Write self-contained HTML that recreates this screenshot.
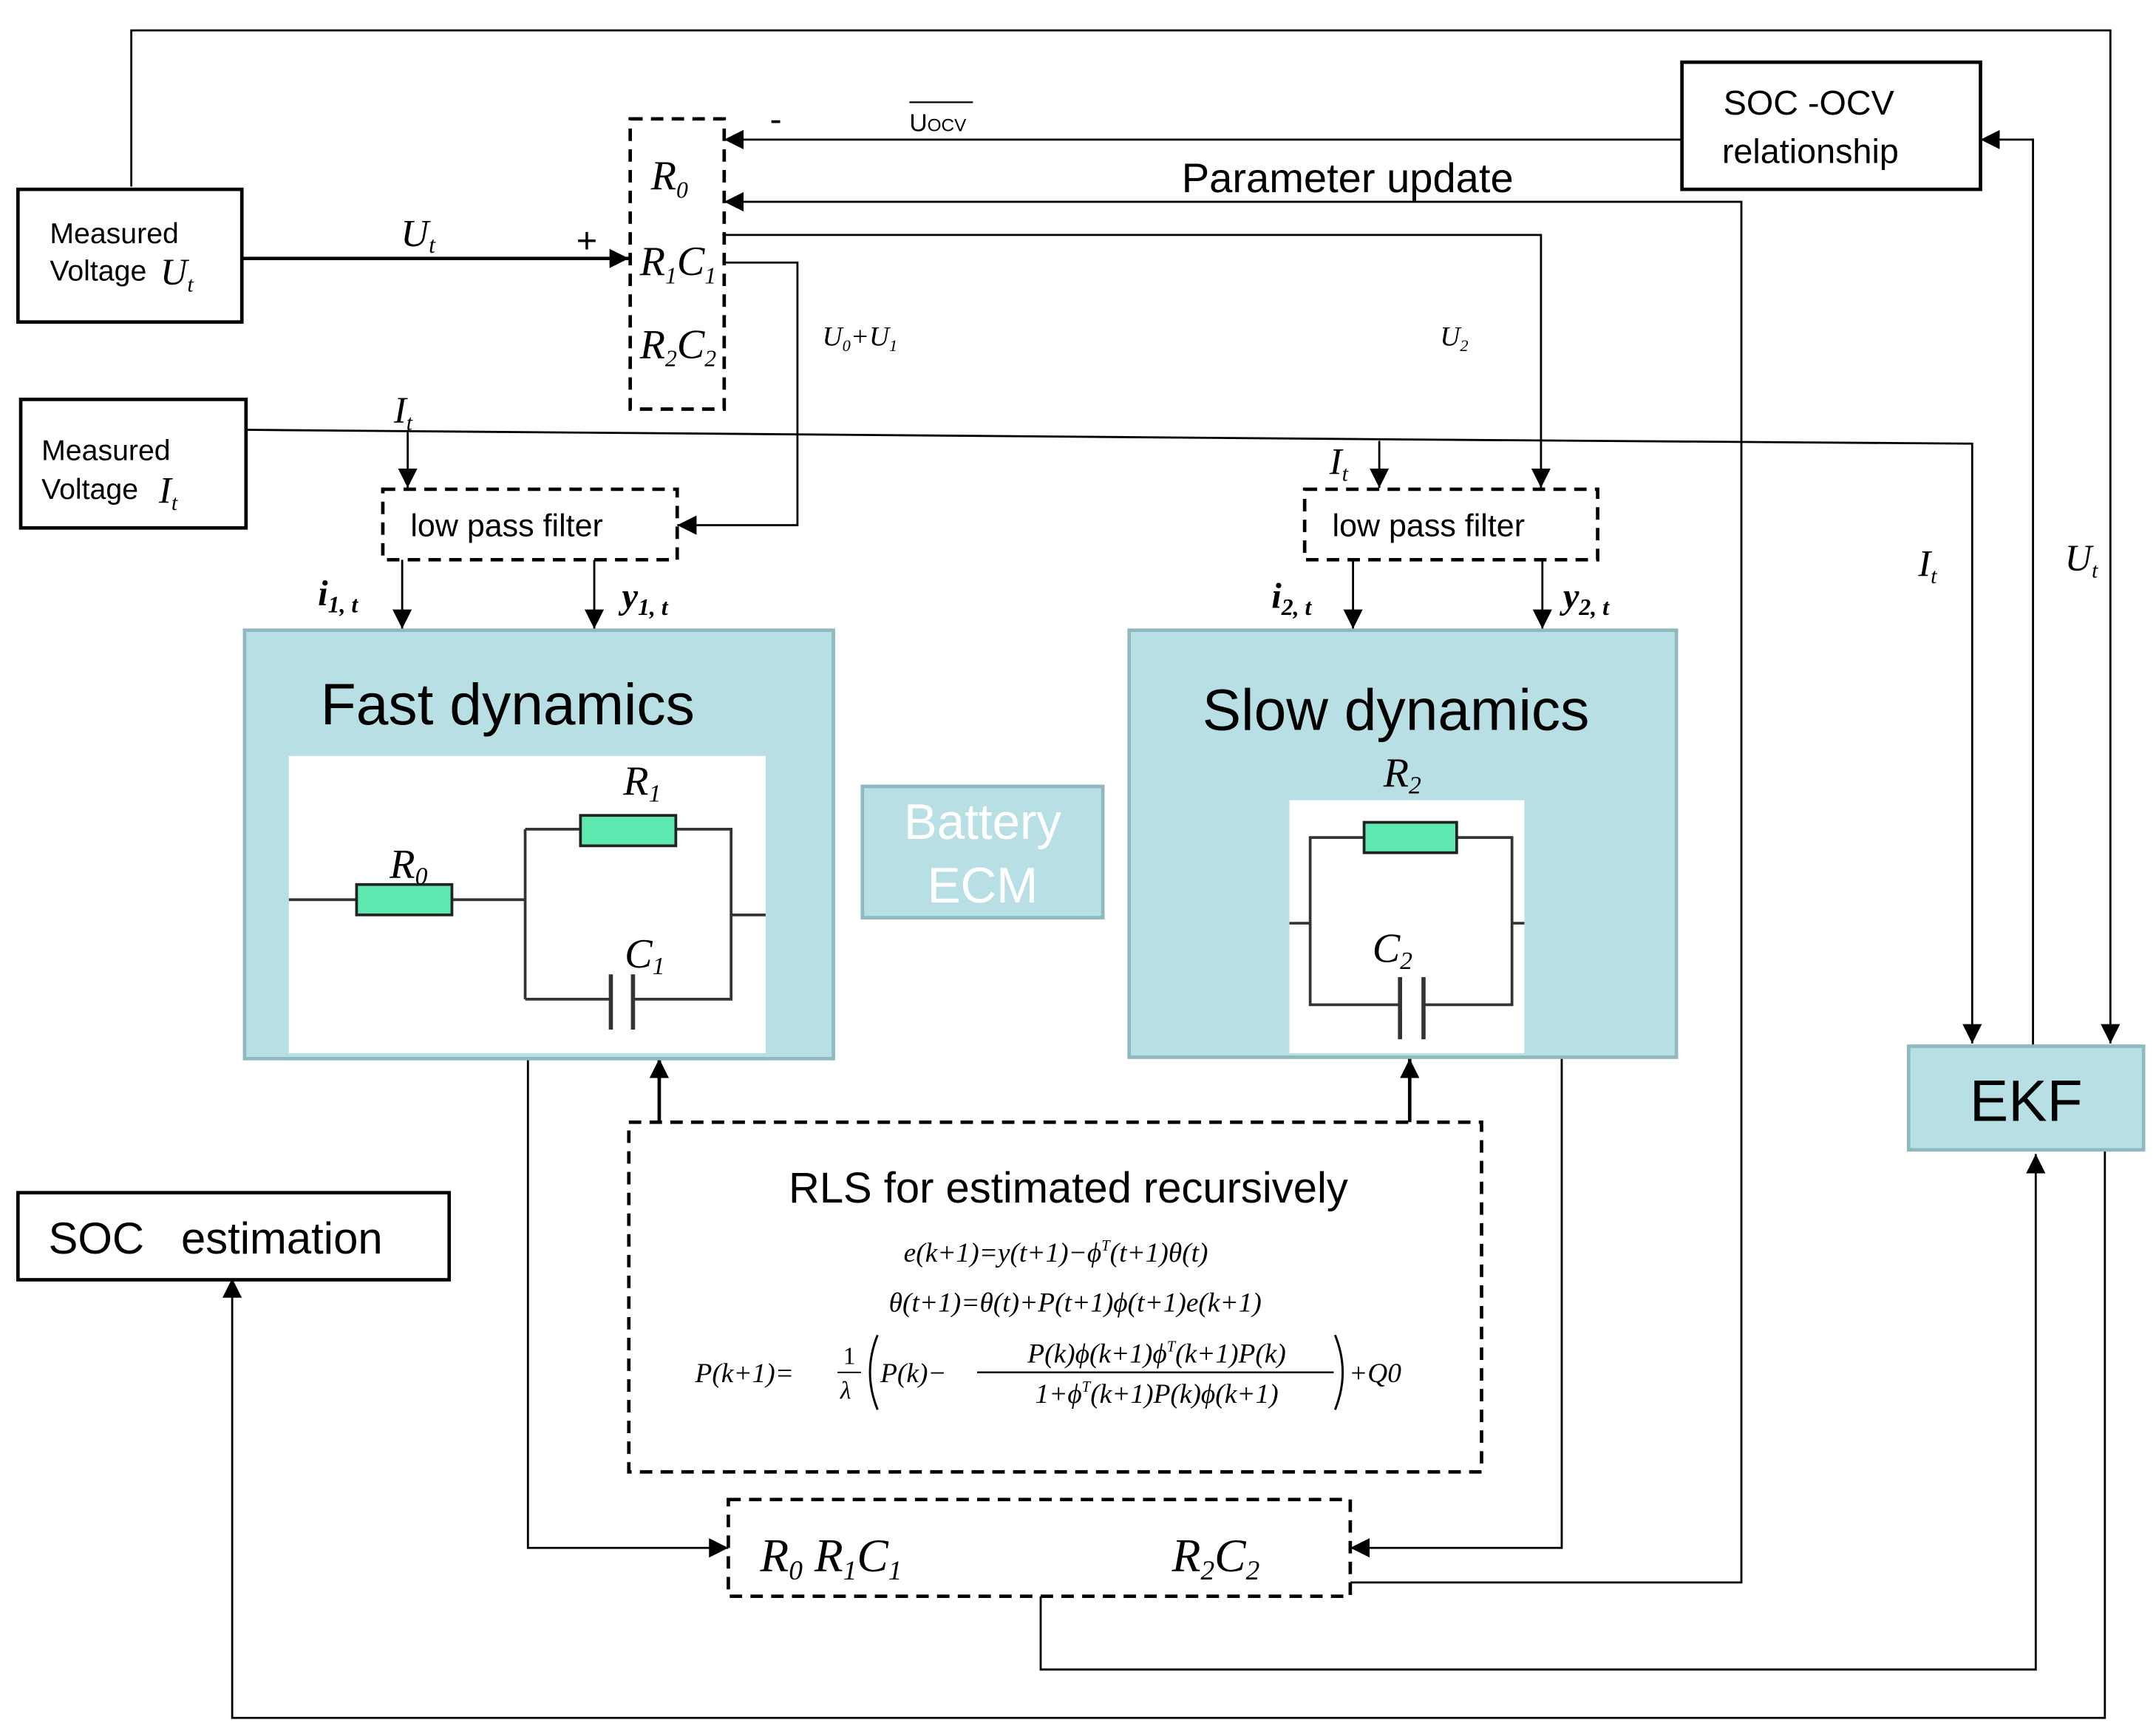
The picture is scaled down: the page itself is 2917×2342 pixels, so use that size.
<!DOCTYPE html>
<html><head><meta charset="utf-8"><style>
html,body{margin:0;padding:0;background:#fff;}
svg{display:block;}
.s{font-family:"Liberation Sans",sans-serif;}
.m{font-family:"Liberation Serif",serif;font-style:italic;}
</style></head><body>
<svg width="2917" height="2342" viewBox="0 0 1560 1252.5" preserveAspectRatio="none" xmlns="http://www.w3.org/2000/svg">
<defs><marker id="b" viewBox="0 0 10 10" refX="10" refY="5" markerWidth="14" markerHeight="14" markerUnits="userSpaceOnUse" orient="auto"><path d="M0,0L10,5L0,10z" fill="#000"/></marker></defs>
<rect width="1560" height="1252.5" fill="#fff"/>
<g fill="none" stroke="#000" stroke-width="1.5">
<polyline points="95,135 95,22 1527,22 1527,755" marker-end="url(#b)"/>
<line x1="1217" y1="101" x2="524" y2="101" marker-end="url(#b)"/>
<polyline points="977,1145 1260,1145 1260,146 524,146" marker-end="url(#b)"/>
<polyline points="524,170 1115,170 1115,353" marker-end="url(#b)"/>
<polyline points="524,190 577,190 577,380 490,380" marker-end="url(#b)"/>
<polyline points="178,311 1020,318 1427,321 1427,755" marker-end="url(#b)"/>
<line x1="295" y1="311" x2="295" y2="353" marker-end="url(#b)"/>
<line x1="998" y1="319" x2="998" y2="353" marker-end="url(#b)"/>
<line x1="291" y1="405" x2="291" y2="455" marker-end="url(#b)"/>
<line x1="430" y1="405" x2="430" y2="455" marker-end="url(#b)"/>
<line x1="979" y1="405" x2="979" y2="455" marker-end="url(#b)"/>
<line x1="1116" y1="405" x2="1116" y2="455" marker-end="url(#b)"/>
<line x1="477" y1="812" x2="477" y2="766" stroke-width="2.5" marker-end="url(#b)"/>
<line x1="1020" y1="812" x2="1020" y2="766" stroke-width="2.5" marker-end="url(#b)"/>
<polyline points="1471,757 1471,101 1433,101" marker-end="url(#b)"/>
<polyline points="382,766 382,1120 527,1120" marker-end="url(#b)"/>
<polyline points="1130,765 1130,1120 977,1120" marker-end="url(#b)"/>
<polyline points="753,1155 753,1208 1473,1208 1473,835" marker-end="url(#b)"/>
<polyline points="1523,832 1523,1243 168,1243 168,925" marker-end="url(#b)"/>
</g>
<line x1="175" y1="187" x2="455" y2="187" stroke="#000" stroke-width="2.5" marker-end="url(#b)"/>
<g fill="#fff" stroke="#000" stroke-width="2.5">
<rect x="13" y="137" width="162" height="96"/>
<rect x="15" y="289" width="163" height="93"/>
<rect x="1217" y="45" width="216" height="92"/>
<rect x="13" y="863" width="312" height="63"/>
</g>
<g fill="#fff" stroke="#000" stroke-width="2.5" stroke-dasharray="9,6">
<rect x="456" y="86" width="68" height="210"/>
<rect x="277" y="354" width="213" height="51"/>
<rect x="944" y="354" width="212" height="51"/>
<rect x="455" y="812" width="617" height="253"/>
<rect x="527" y="1085" width="450" height="70"/>
</g>
<g fill="#b8dfe3" stroke="#8fb8bf" stroke-width="2.5">
<rect x="177" y="456" width="426" height="310"/>
<rect x="817" y="456" width="396" height="309"/>
<rect x="624" y="569" width="174" height="95"/>
<rect x="1381" y="757" width="170" height="75"/>
</g>
<rect x="209" y="547" width="345" height="215" fill="#fff"/>
<rect x="933" y="579" width="170" height="183" fill="#fff"/>
<g fill="none" stroke="#333" stroke-width="2">
<line x1="209" y1="651" x2="258" y2="651"/><line x1="327" y1="651" x2="380" y2="651"/>
<polyline points="380,600 380,723"/><polyline points="380,600 420,600"/><polyline points="489,600 529,600 529,723 458,723"/>
<polyline points="380,723 442,723"/><line x1="442" y1="705" x2="442" y2="745" stroke-width="3"/><line x1="458" y1="705" x2="458" y2="745" stroke-width="3"/>
<line x1="529" y1="662" x2="554" y2="662"/>
<polyline points="987,606 948,606 948,727 1013,727"/><polyline points="1054,606 1094,606 1094,727 1030,727"/>
<line x1="1013" y1="707" x2="1013" y2="752" stroke-width="3"/><line x1="1030" y1="707" x2="1030" y2="752" stroke-width="3"/>
<line x1="933" y1="668" x2="948" y2="668"/><line x1="1094" y1="668" x2="1103" y2="668"/>
</g>
<g fill="#5fe8b0" stroke="#222" stroke-width="2">
<rect x="258" y="640" width="69" height="22"/><rect x="420" y="590" width="69" height="22"/><rect x="987" y="595" width="67" height="22"/>
</g>
<g class="s" fill="#000">
<text x="36" y="176" font-size="21">Measured</text><text x="36" y="203" font-size="21">Voltage</text>
<text x="30" y="333" font-size="21">Measured</text><text x="30" y="361" font-size="21">Voltage</text>
<text x="1247" y="83" font-size="25">SOC -OCV</text><text x="1246" y="118" font-size="25">relationship</text>
<text x="855" y="139" font-size="30">Parameter update</text>
<text x="297" y="388" font-size="23">low pass filter</text>
<text x="964" y="388" font-size="23">low pass filter</text>
<text x="232" y="524" font-size="42">Fast dynamics</text>
<text x="870" y="528" font-size="42">Slow dynamics</text>
<text x="711" y="607" font-size="36" fill="#fff" text-anchor="middle">Battery</text>
<text x="711" y="653" font-size="36" fill="#fff" text-anchor="middle">ECM</text>
<text x="1466" y="811" font-size="42" text-anchor="middle">EKF</text>
<text x="35" y="907" font-size="32">SOC&#160;&#160;&#160;estimation</text>
<text x="773" y="870" font-size="31" text-anchor="middle">RLS for estimated recursively</text>
<text x="417" y="183" font-size="26">+</text><text x="557" y="95" font-size="26">-</text>
<text x="658" y="95" font-size="18">U<tspan font-size="13">OCV</tspan></text>
</g>
<line x1="658" y1="74" x2="704" y2="74" stroke="#000" stroke-width="1.2"/>
<g class="m" fill="#000">
<text x="116" y="206" font-size="27">U<tspan font-size="16" dy="5">t</tspan></text>
<text x="115" y="364" font-size="27">I<tspan font-size="16" dy="5">t</tspan></text>
<text x="290" y="178" font-size="28">U<tspan font-size="17" dy="5">t</tspan></text>
<text x="471" y="137" font-size="30">R<tspan font-size="17" dy="6">0</tspan></text>
<text x="463" y="199" font-size="30">R<tspan font-size="17" dy="6">1</tspan><tspan dy="-6">C</tspan><tspan font-size="17" dy="6">1</tspan></text>
<text x="463" y="259" font-size="30">R<tspan font-size="17" dy="6">2</tspan><tspan dy="-6">C</tspan><tspan font-size="17" dy="6">2</tspan></text>
<text x="595" y="250" font-size="20">U<tspan font-size="12" dy="4">0</tspan><tspan dy="-4">+U</tspan><tspan font-size="12" dy="4">1</tspan></text>
<text x="1042" y="250" font-size="20">U<tspan font-size="12" dy="4">2</tspan></text>
<text x="285" y="306" font-size="27">I<tspan font-size="16" dy="5">t</tspan></text>
<text x="962" y="343" font-size="27">I<tspan font-size="16" dy="5">t</tspan></text>
<text x="1388" y="417" font-size="27">I<tspan font-size="16" dy="5">t</tspan></text>
<text x="1494" y="413" font-size="27">U<tspan font-size="16" dy="5">t</tspan></text>
<text x="230" y="438" font-size="26" font-weight="bold">i<tspan font-size="17" dy="5">1, t</tspan></text>
<text x="450" y="440" font-size="26" font-weight="bold">y<tspan font-size="17" dy="5">1, t</tspan></text>
<text x="920" y="440" font-size="26" font-weight="bold">i<tspan font-size="17" dy="5">2, t</tspan></text>
<text x="1131" y="440" font-size="26" font-weight="bold">y<tspan font-size="17" dy="5">2, t</tspan></text>
<text x="451" y="575" font-size="30">R<tspan font-size="18" dy="5">1</tspan></text>
<text x="282" y="635" font-size="30">R<tspan font-size="18" dy="5">0</tspan></text>
<text x="452" y="700" font-size="30">C<tspan font-size="18" dy="5">1</tspan></text>
<text x="1001" y="569" font-size="30">R<tspan font-size="18" dy="5">2</tspan></text>
<text x="993" y="696" font-size="30">C<tspan font-size="18" dy="5">2</tspan></text>
<text x="550" y="1137" font-size="34">R<tspan font-size="20" dy="6">0</tspan><tspan dy="-6"> R</tspan><tspan font-size="20" dy="6">1</tspan><tspan dy="-6">C</tspan><tspan font-size="20" dy="6">1</tspan></text>
<text x="848" y="1137" font-size="34">R<tspan font-size="20" dy="6">2</tspan><tspan dy="-6">C</tspan><tspan font-size="20" dy="6">2</tspan></text>
<text x="764" y="913" font-size="20" text-anchor="middle">e(k+1)=y(t+1)−ϕ<tspan font-size="11" dy="-8">T</tspan><tspan dy="8">(t+1)θ(t)</tspan></text>
<text x="778" y="949" font-size="20" text-anchor="middle">θ(t+1)=θ(t)+P(t+1)ϕ(t+1)e(k+1)</text>
<text x="503" y="1000" font-size="20">P(k+1)=</text>
<text x="610" y="987" font-size="18" font-style="normal">1</text>
<text x="608" y="1012" font-size="18">λ</text>
<text x="637" y="1000" font-size="20">P(k)−</text>
<text x="837" y="986" font-size="20" text-anchor="middle">P(k)ϕ(k+1)ϕ<tspan font-size="11" dy="-8">T</tspan><tspan dy="8">(k+1)P(k)</tspan></text>
<text x="837" y="1015" font-size="20" text-anchor="middle">1+ϕ<tspan font-size="11" dy="-8">T</tspan><tspan dy="8">(k+1)P(k)ϕ(k+1)</tspan></text>
<text x="976" y="1000" font-size="20">+Q0</text>
</g>
<line x1="606" y1="993" x2="623" y2="993" stroke="#000"/>
<line x1="707" y1="993" x2="965" y2="993" stroke="#000" stroke-width="1.3"/>
<path d="M635,966 Q624,993 635,1020" fill="none" stroke="#000" stroke-width="1.6"/>
<path d="M966,966 Q977,993 966,1020" fill="none" stroke="#000" stroke-width="1.6"/>
</svg>
</body></html>
